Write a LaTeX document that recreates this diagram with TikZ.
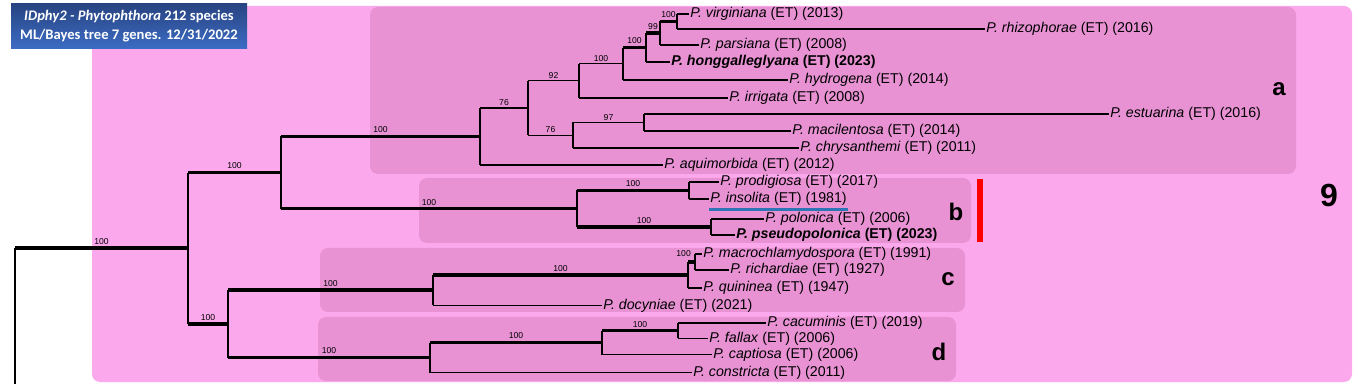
\documentclass[tikz,border=0pt]{standalone}
\usepackage{fontspec}
\setmainfont{Liberation Sans}
\newfontfamily\titlefont{Carlito}
\usepackage{tikz}
\usetikzlibrary{positioning, backgrounds, calc}
\definecolor{cladecol}{RGB}{252,168,236}
\definecolor{subcol}{RGB}{232,146,212}
\definecolor{titletop}{RGB}{40,68,130}
\definecolor{titlebot}{RGB}{60,108,196}
\definecolor{markred}{RGB}{255,0,0}
\definecolor{markblue}{RGB}{46,117,182}

\begin{document}
\begin{tikzpicture}[
  x=0.5pt, y=-0.5pt,
  leaf/.style={anchor=west, inner sep=0.5pt, font=\fontsize{7.1}{8}\selectfont},
  boot/.style={above, inner sep=0.9pt, font=\fontsize{4.3}{5}\selectfont},
  thickbr/.style={line width=1.75pt},
  thinbr/.style={line width=0.55pt},
  vline/.style={line width=0.55pt},
  cladebox/.style={rounded corners=4pt},
  cladelbl/.style={font=\bfseries\fontsize{12}{14}\selectfont, inner sep=0pt},
  titlebox/.style={top color=titletop, bottom color=titlebot, text=white,
                   minimum width=118pt, minimum height=22.5pt, align=center,
                   inner sep=0pt, font=\titlefont\bfseries\fontsize{7.3}{9.5}\selectfont}
]
\useasboundingbox (0,0) rectangle (1358,384);

%% background boxes
\fill[cladecol, cladebox] (92,6) rectangle (1352,382);
\fill[subcol, cladebox] (370,7) rectangle (1296,174);
\fill[subcol, cladebox] (419,178) rectangle (971,243);
\fill[subcol, cladebox] (320,248) rectangle (965,312);
\fill[subcol, cladebox] (318,317) rectangle (956,381);

%% title
\node[titlebox] (title) at (129,26.5)
  {\textit{IDphy2 - Phytophthora} 212 species\\ML/Bayes tree 7 genes. 12/31/2022};

%% tips
\node[leaf] (virg)  at (689,14)    {\textit{P. virginiana} (ET) (2013)};
\node[leaf] (rhiz)  at (985,29)    {\textit{P. rhizophorae} (ET) (2016)};
\node[leaf] (pars)  at (699,45)    {\textit{P. parsiana} (ET) (2008)};
\node[leaf] (hong)  at (670,62)    {\textbf{\textit{P. honggalleglyana} (ET) (2023)}};
\node[leaf] (hydr)  at (788,80)    {\textit{P. hydrogena} (ET) (2014)};
\node[leaf] (irri)  at (728,98)    {\textit{P. irrigata} (ET) (2008)};
\node[leaf] (estu)  at (1109,114)  {\textit{P. estuarina} (ET) (2016)};
\node[leaf] (macil) at (791,131)   {\textit{P. macilentosa} (ET) (2014)};
\node[leaf] (chrys) at (799,148)   {\textit{P. chrysanthemi} (ET) (2011)};
\node[leaf] (aqui)  at (663,165)   {\textit{P. aquimorbida} (ET) (2012)};
\node[leaf] (prod)  at (719,182)   {\textit{P. prodigiosa} (ET) (2017)};
\node[leaf] (inso)  at (709,199)   {\textit{P. insolita} (ET) (1981)};
\node[leaf] (polo)  at (764,219)   {\textit{P. polonica} (ET) (2006)};
\node[leaf] (pseu)  at (735,235)   {\textbf{\textit{P. pseudopolonica} (ET) (2023)}};
\node[leaf] (macro) at (702,254)   {\textit{P. macrochlamydospora} (ET) (1991)};
\node[leaf] (rich)  at (729,270)   {\textit{P. richardiae} (ET) (1927)};
\node[leaf] (quin)  at (702,288)   {\textit{P. quininea} (ET) (1947)};
\node[leaf] (docy)  at (602,305.5) {\textit{P. docyniae} (ET) (2021)};
\node[leaf] (cacu)  at (766,323)   {\textit{P. cacuminis} (ET) (2019)};
\node[leaf] (fall)  at (708,338.5) {\textit{P. fallax} (ET) (2006)};
\node[leaf] (capt)  at (712,354.5) {\textit{P. captiosa} (ET) (2006)};
\node[leaf] (cons)  at (692,372.5) {\textit{P. constricta} (ET) (2011)};

%% internal nodes
\coordinate (n677) at (677,21.5);
\coordinate (n660) at (660,33.25);
\coordinate (n646) at (646,47.6);
\coordinate (n623) at (623,63.8);
\coordinate (n579) at (579,80.9);
\coordinate (n644) at (644,122.5);
\coordinate (n573) at (573,135.25);
\coordinate (n528) at (528,108);
\coordinate (n480) at (480,136.5);
\coordinate (n689) at (689,190.5);
\coordinate (n711) at (711,227);
\coordinate (n577) at (577,208.75);
\coordinate (n281) at (281,172.6);
\coordinate (n695) at (695,262);
\coordinate (n688) at (688,275);
\coordinate (n433) at (433,290.25);
\coordinate (n678) at (678,330.75);
\coordinate (n602) at (602,342.6);
\coordinate (n430) at (430,357.6);
\coordinate (n228) at (228,323.9);
\coordinate (n188) at (188,248.25);
\coordinate (root) at (15,248.25);
\coordinate (rootend) at (15,384);

%% verticals
\foreach \p/\a/\b in {n677/virg/rhiz, n660/n677/pars, n646/n660/hong, n623/n646/hydr,
    n579/n623/irri, n644/estu/macil, n573/n644/chrys, n528/n579/n573, n480/n528/aqui,
    n689/prod/inso, n711/polo/pseu, n577/n689/n711, n281/n480/n577, n695/macro/rich,
    n688/n695/quin, n433/n688/docy, n678/cacu/fall, n602/n678/capt, n430/n602/cons,
    n228/n433/n430, n188/n281/n228}
  \draw[vline] (\p |- \a) -- (\p |- \b);
\draw[vline] (root) -- (rootend);

%% tip branches
\foreach \p/\c in {n677/virg, n677/rhiz, n660/pars, n646/hong, n623/hydr, n579/irri,
    n644/estu, n644/macil, n573/chrys, n480/aqui, n689/prod, n689/inso, n711/polo,
    n711/pseu, n695/macro, n695/rich, n688/quin, n433/docy, n678/cacu, n678/fall,
    n602/capt, n430/cons}
  \draw[thinbr] (\p |- \c.west) -- (\c.west);

%% supported branches
\foreach \p/\c/\s in {root/n188/100, n188/n281/100, n188/n228/100, n281/n480/100,
    n281/n577/100, n577/n689/100, n577/n711/100, n228/n433/100, n228/n430/100,
    n433/n688/100, n430/n602/100, n602/n678/100, n660/n677/100, n646/n660/99,
    n623/n646/100}
  \draw[thickbr] (\p |- \c) -- node[boot] {\s} (\c);
\draw[thickbr] (n688 |- n695) -- (n695);
\node[boot, anchor=east] (bs695) at ([xshift=-1pt]n695 |- macro) {100};

%% weaker branches
\foreach \p/\c/\s in {n480/n528/76, n528/n579/92, n579/n623/100, n528/n573/76,
    n573/n644/97}
  \draw[thinbr] (\p |- \c) -- node[boot] {\s} (\c);

%% clade labels and marks
\node[cladelbl] (la) at (1279,89)  {a};
\node[cladelbl] (lb) at (956,212)  {b};
\node[cladelbl] (lc) at (948,279)  {c};
\node[cladelbl] (ld) at (939,352)  {d};
\node[cladelbl, font=\bfseries\fontsize{16}{18}\selectfont] (l9) at (1329,195) {9};
\fill[markred] (977,179) rectangle (983,242);
\draw[markblue, line width=1.5pt] ([yshift=-1.2pt]inso.south west) -- ([yshift=-1.2pt]inso.south east);

\end{tikzpicture}
\end{document}
